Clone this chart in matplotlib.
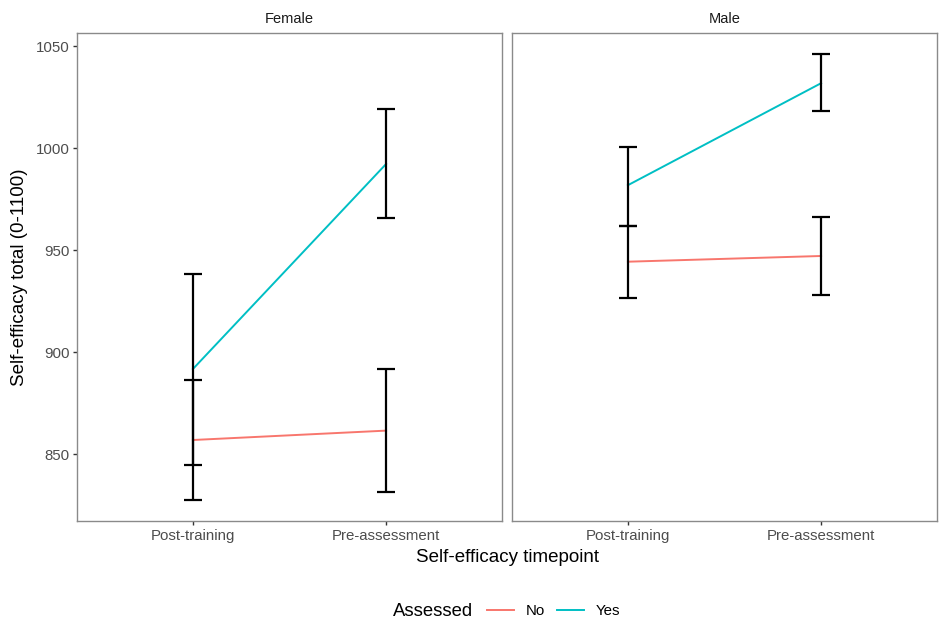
import numpy as np
import matplotlib.pyplot as plt
from matplotlib.lines import Line2D

plt.rcParams['font.family'] = ['Liberation Sans', 'DejaVu Sans']

timepoints = ['Post-training', 'Pre-assessment']
panels = ['Female', 'Male']
groups = ['No', 'Yes']
colors = {'No': '#F8766D', 'Yes': '#00BFC4'}

# means and interval bounds, per panel and group, in timepoint order
mean = {
    ('Female', 'No'): [857.0, 861.6],
    ('Female', 'Yes'): [891.8, 992.3],
    ('Male', 'No'): [944.4, 947.2],
    ('Male', 'Yes'): [981.9, 1031.9],
}
lower = {
    ('Female', 'No'): [844.8, 831.4],
    ('Female', 'Yes'): [827.6, 965.8],
    ('Male', 'No'): [926.5, 928.2],
    ('Male', 'Yes'): [962.1, 1018.1],
}
upper = {
    ('Female', 'No'): [886.3, 891.8],
    ('Female', 'Yes'): [938.2, 1019.4],
    ('Male', 'No'): [962.1, 966.2],
    ('Male', 'Yes'): [1000.8, 1046.2],
}

W, H = 946, 622
fig = plt.figure(figsize=(W / 100, H / 100), dpi=100)
fig.patch.set_facecolor('white')

frame_col = '#8a8a8a'
tick_col = '#4D4D4D'
boxes = [(77, 502), (512, 937)]
top, bottom = 33, 521

x = np.arange(1, len(timepoints) + 1)
axes = []
for i, panel in enumerate(panels):
    l, r = boxes[i]
    ax = fig.add_axes([l / W, (H - bottom) / H, (r - l) / W, (bottom - top) / H])
    axes.append(ax)
    for g in groups:
        m = np.array(mean[(panel, g)])
        lo = np.array(lower[(panel, g)])
        hi = np.array(upper[(panel, g)])
        ax.plot(x, m, color=colors[g], lw=1.4, zorder=2)
        ax.errorbar(x, m, yerr=[m - lo, hi - m], fmt='none', ecolor='black',
                    elinewidth=1.6, capsize=6.8, capthick=1.6, zorder=3)
    ax.set_xlim(0.4, 2.6)
    ax.set_ylim(817.3, 1056.5)
    ax.set_xticks(x)
    ax.set_xticklabels(timepoints)
    ax.set_yticks([850, 900, 950, 1000, 1050])
    ax.tick_params(length=3, width=1, color='#333333', labelcolor=tick_col,
                   labelsize=10.8, pad=2.5)
    for s in ax.spines.values():
        s.set_color(frame_col)
        s.set_linewidth(1)
    ax.set_title(panel, fontsize=10.5, color='#1A1A1A', pad=7)
    if i == 1:
        ax.tick_params(axis='y', left=False, labelleft=False)

fig.text(507 / W, 1 - 557 / H, 'Self-efficacy timepoint', ha='center', va='center',
         fontsize=13.5, color='black')
fig.text(20 / W, 1 - 277 / H, 'Self-efficacy total (0-1100)', ha='center', va='center',
         rotation=90, fontsize=13.5, color='black')

# legend at the bottom, title to the left
fig.text(393 / W, 1 - 611 / H, 'Assessed', ha='left', va='center',
         fontsize=13.3, color='black')
handles = [Line2D([], [], color=colors[g], lw=1.4) for g in groups]
fig.legend(handles, groups, loc='center left', bbox_to_anchor=(487 / W, 1 - 611 / H),
           ncol=2, frameon=False, fontsize=10.8, handlelength=1.8,
           handletextpad=0.8, columnspacing=0.75, borderpad=0, borderaxespad=0)

fig.savefig('out.png', dpi=100, facecolor='white')
